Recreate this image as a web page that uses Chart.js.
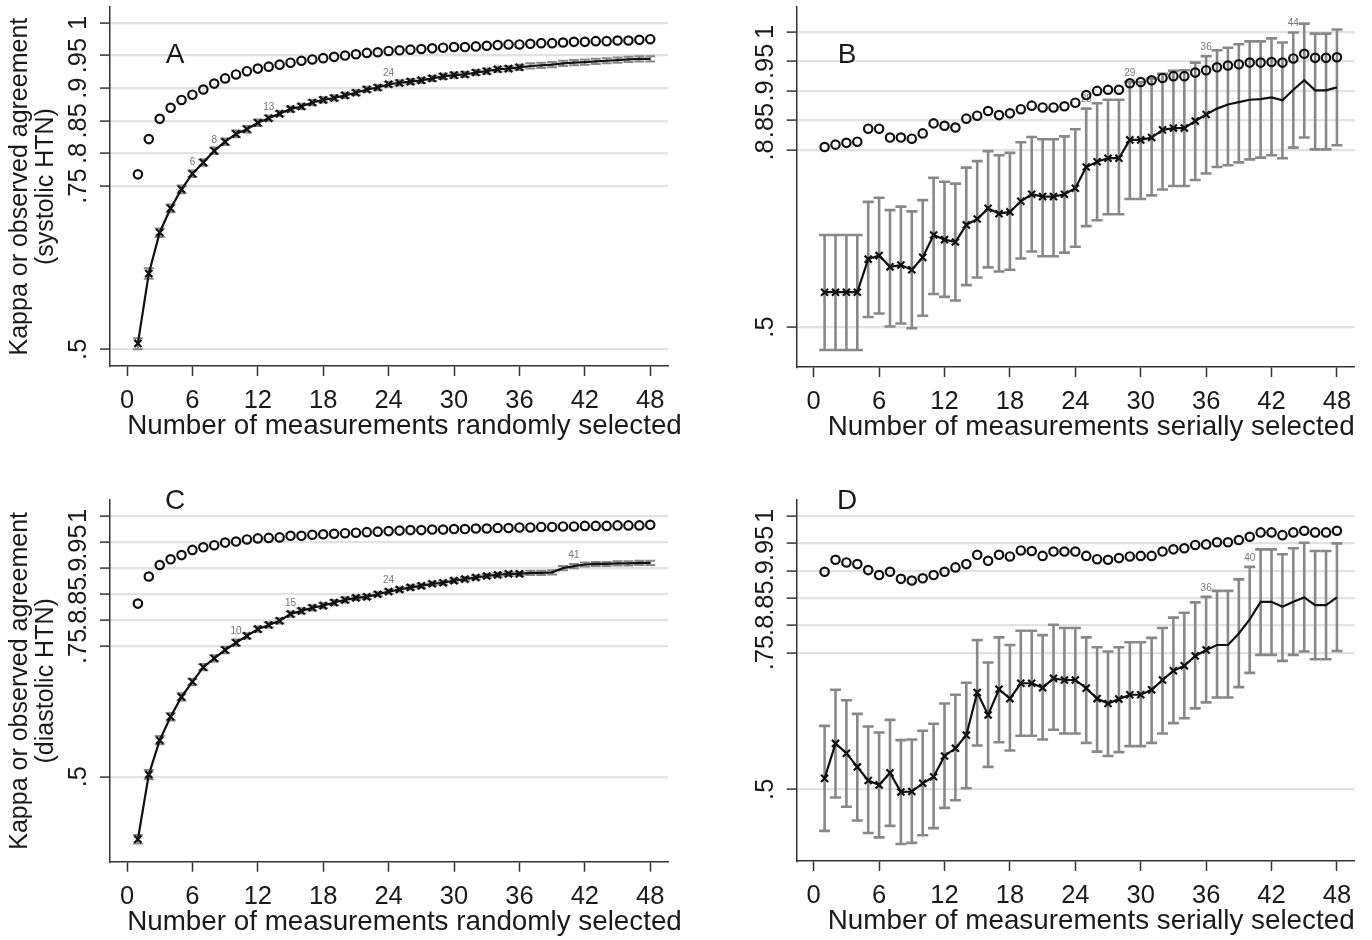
<!DOCTYPE html>
<html><head><meta charset="utf-8">
<script src="https://cdn.jsdelivr.net/npm/chart.js@4.4.1/dist/chart.umd.min.js"></script>
<style>
html,body{margin:0;padding:0;background:#fff;width:1372px;height:940px;overflow:hidden;}
canvas{position:absolute;display:block;}
</style></head><body>
<canvas id="cA" width="686" height="460" style="left:0;top:0"></canvas>
<canvas id="cB" width="686" height="460" style="left:686px;top:0"></canvas>
<canvas id="cC" width="686" height="480" style="left:0;top:460px"></canvas>
<canvas id="cD" width="686" height="480" style="left:686px;top:460px"></canvas>
<script>
// ---------- data ----------
const nMeasurements = [1,2,3,4,5,6,7,8,9,10,11,12,13,14,15,16,17,18,19,20,21,22,23,24,25,26,27,28,29,30,31,32,33,34,35,36,37,38,39,40,41,42,43,44,45,46,47,48];
const xTicks = [0,6,12,18,24,30,36,42,48];
const yTicksACD = [0.5,0.75,0.8,0.85,0.9,0.95,1];
const yLabelsACD = ['.5','.75','.8','.85','.9','.95','1'];
const yTicksB = [0.5,0.8,0.85,0.9,0.95,1];
const yLabelsB = ['.5','.8','.85','.9','.95','1'];

// Panel A: systolic, random selection
const aObserved = [0.768,0.822,0.853,0.870,0.882,0.890,0.898,0.907,0.915,0.921,0.926,0.930,0.933,0.936,0.939,0.942,0.944,0.946,0.948,0.950,0.952,0.954,0.955,0.957,0.958,0.959,0.960,0.961,0.962,0.963,0.963,0.964,0.965,0.966,0.967,0.967,0.968,0.969,0.969,0.970,0.971,0.971,0.972,0.972,0.973,0.973,0.974,0.975];
const aKappa = [0.509,0.616,0.679,0.716,0.745,0.769,0.786,0.804,0.818,0.830,0.837,0.847,0.854,0.861,0.868,0.872,0.878,0.882,0.885,0.889,0.893,0.898,0.901,0.906,0.908,0.910,0.912,0.915,0.918,0.920,0.921,0.924,0.926,0.929,0.930,0.932,0.934,0.935,0.936,0.938,0.939,0.940,0.941,0.942,0.943,0.944,0.945,0.945];
const aLow = [0.500,0.608,0.672,0.710,0.739,0.764,0.781,0.799,0.813,0.825,0.832,0.842,0.850,0.857,0.864,0.868,0.874,0.878,0.881,0.885,0.889,0.894,0.897,0.902,0.904,0.906,0.908,0.911,0.914,0.916,0.917,0.920,0.922,0.925,0.926,0.928,0.930,0.931,0.932,0.934,0.935,0.936,0.937,0.938,0.939,0.940,0.941,0.941];
const aHigh = [0.517,0.624,0.685,0.722,0.751,0.774,0.791,0.809,0.823,0.835,0.842,0.852,0.858,0.865,0.872,0.876,0.882,0.886,0.889,0.893,0.897,0.902,0.905,0.910,0.912,0.914,0.916,0.919,0.922,0.924,0.925,0.928,0.930,0.933,0.934,0.936,0.938,0.939,0.940,0.942,0.943,0.944,0.945,0.946,0.947,0.948,0.949,0.949];
const aMarks = [6,8,13,24];

// Panel B: systolic, serial selection
const bObserved = [0.805,0.809,0.812,0.814,0.836,0.836,0.821,0.821,0.819,0.828,0.845,0.841,0.838,0.853,0.858,0.866,0.859,0.862,0.869,0.875,0.872,0.872,0.874,0.880,0.893,0.900,0.902,0.902,0.913,0.915,0.918,0.922,0.925,0.925,0.931,0.935,0.940,0.943,0.945,0.948,0.948,0.949,0.948,0.955,0.963,0.956,0.956,0.957];
const bKappa = [0.559,0.559,0.559,0.559,0.615,0.621,0.602,0.605,0.597,0.618,0.656,0.648,0.644,0.673,0.683,0.701,0.692,0.695,0.713,0.725,0.721,0.721,0.725,0.735,0.771,0.780,0.786,0.786,0.817,0.817,0.821,0.834,0.837,0.837,0.849,0.860,0.870,0.877,0.881,0.885,0.886,0.889,0.884,0.902,0.918,0.901,0.901,0.906];
const bLow = [0.461,0.461,0.461,0.461,0.517,0.523,0.501,0.506,0.498,0.519,0.556,0.551,0.545,0.571,0.584,0.601,0.594,0.597,0.616,0.628,0.620,0.620,0.626,0.636,0.671,0.681,0.691,0.691,0.717,0.717,0.723,0.733,0.739,0.739,0.749,0.760,0.771,0.774,0.779,0.784,0.787,0.791,0.786,0.804,0.821,0.801,0.801,0.808];
const bHigh = [0.656,0.656,0.656,0.656,0.712,0.719,0.698,0.704,0.696,0.715,0.753,0.746,0.743,0.770,0.781,0.798,0.791,0.795,0.813,0.822,0.818,0.818,0.823,0.835,0.870,0.879,0.885,0.885,0.915,0.915,0.921,0.929,0.934,0.935,0.948,0.959,0.969,0.973,0.979,0.984,0.984,0.989,0.982,0.999,1.014,0.997,0.997,1.004];
const bMarks = [25,29,36,44];

// Panel C: diastolic, random selection
const cObserved = [0.832,0.884,0.906,0.917,0.925,0.935,0.940,0.944,0.949,0.951,0.955,0.957,0.958,0.959,0.962,0.962,0.964,0.965,0.966,0.967,0.968,0.969,0.970,0.971,0.972,0.973,0.973,0.974,0.974,0.975,0.975,0.976,0.976,0.977,0.977,0.978,0.978,0.979,0.979,0.980,0.980,0.981,0.981,0.981,0.982,0.982,0.982,0.983];
const cKappa = [0.380,0.504,0.570,0.615,0.653,0.682,0.710,0.727,0.743,0.757,0.770,0.783,0.791,0.799,0.812,0.818,0.824,0.828,0.834,0.839,0.843,0.845,0.850,0.855,0.859,0.863,0.866,0.870,0.872,0.876,0.879,0.882,0.885,0.887,0.889,0.889,0.891,0.891,0.892,0.900,0.904,0.907,0.908,0.908,0.909,0.909,0.910,0.910];
const cLow = [0.372,0.495,0.562,0.608,0.646,0.676,0.704,0.721,0.737,0.751,0.765,0.778,0.786,0.794,0.807,0.813,0.819,0.823,0.829,0.834,0.839,0.841,0.846,0.851,0.855,0.859,0.862,0.866,0.868,0.872,0.875,0.878,0.881,0.883,0.885,0.885,0.887,0.887,0.888,0.896,0.900,0.903,0.904,0.904,0.905,0.905,0.906,0.906];
const cHigh = [0.388,0.513,0.578,0.622,0.660,0.688,0.716,0.733,0.749,0.763,0.775,0.788,0.796,0.804,0.817,0.823,0.829,0.833,0.839,0.844,0.847,0.849,0.854,0.859,0.863,0.867,0.870,0.874,0.876,0.880,0.883,0.886,0.889,0.891,0.893,0.893,0.895,0.895,0.896,0.904,0.908,0.911,0.912,0.912,0.913,0.913,0.914,0.914];
const cMarks = [10,15,24,41];

// Panel D: diastolic, serial selection
const dObserved = [0.898,0.920,0.915,0.912,0.901,0.892,0.898,0.885,0.882,0.886,0.892,0.898,0.906,0.912,0.929,0.918,0.929,0.926,0.937,0.936,0.927,0.935,0.935,0.935,0.927,0.921,0.920,0.923,0.926,0.927,0.927,0.935,0.939,0.941,0.947,0.948,0.952,0.952,0.956,0.962,0.970,0.970,0.965,0.970,0.973,0.970,0.970,0.973];
const dKappa = [0.520,0.584,0.566,0.541,0.516,0.508,0.530,0.495,0.496,0.511,0.523,0.561,0.575,0.599,0.677,0.636,0.683,0.666,0.694,0.694,0.686,0.703,0.700,0.700,0.685,0.666,0.657,0.665,0.673,0.673,0.682,0.700,0.717,0.726,0.744,0.755,0.764,0.764,0.785,0.811,0.843,0.843,0.834,0.843,0.851,0.837,0.837,0.851];
const dLow = [0.424,0.485,0.468,0.443,0.420,0.412,0.433,0.400,0.402,0.416,0.429,0.466,0.480,0.502,0.580,0.541,0.586,0.571,0.598,0.598,0.591,0.609,0.602,0.602,0.585,0.569,0.561,0.568,0.579,0.579,0.585,0.602,0.621,0.630,0.648,0.659,0.668,0.668,0.687,0.713,0.746,0.746,0.735,0.746,0.752,0.738,0.738,0.753];
const dHigh = [0.616,0.682,0.663,0.638,0.615,0.604,0.627,0.590,0.591,0.607,0.620,0.657,0.673,0.695,0.773,0.732,0.778,0.764,0.790,0.790,0.782,0.801,0.795,0.795,0.778,0.760,0.752,0.760,0.769,0.769,0.777,0.795,0.814,0.823,0.842,0.852,0.863,0.863,0.884,0.907,0.939,0.939,0.930,0.941,0.951,0.936,0.936,0.950];
const dMarks = [36,40];

// ---------- rendering ----------
const FONT = '"Liberation Sans", Arial, Helvetica, sans-serif';
Chart.defaults.font.family = FONT;
Chart.defaults.color = '#1a1a1a';

function extrasPlugin(p) {
  return {
    id: 'extras' + p.letter,
    beforeDatasetsDraw(chart) {
      const {ctx, scales: {x, y}} = chart;
      ctx.save();
      ctx.strokeStyle = '#888888';
      ctx.lineWidth = p.barWidth;
      ctx.lineCap = 'butt';
      for (let i = 0; i < nMeasurements.length; i++) {
        const px = x.getPixelForValue(nMeasurements[i]);
        const p1 = y.getPixelForValue(p.low[i]);
        const p2 = y.getPixelForValue(p.high[i]);
        ctx.beginPath();
        ctx.moveTo(px, p1); ctx.lineTo(px, p2);
        ctx.moveTo(px - p.cap, p1); ctx.lineTo(px + p.cap, p1);
        ctx.moveTo(px - p.cap, p2); ctx.lineTo(px + p.cap, p2);
        ctx.stroke();
      }
      ctx.fillStyle = '#777777';
      ctx.font = '10px ' + FONT;
      ctx.textAlign = 'center';
      ctx.textBaseline = 'middle';
      p.marks.forEach(n => {
        const i = nMeasurements.indexOf(n);
        ctx.fillText(String(n), x.getPixelForValue(n), y.getPixelForValue(p.anchor[i]) - p.markOffset);
      });
      ctx.restore();
    },
    afterDraw(chart) {
      const {ctx, chartArea} = chart;
      ctx.save();
      ctx.fillStyle = '#1a1a1a';
      ctx.textAlign = 'center';
      ctx.textBaseline = 'middle';
      // panel letter
      ctx.font = '28px ' + FONT;
      ctx.fillText(p.letter, p.letterX, p.letterY);
      // x-axis title (Stata centres it slightly right of the plot region)
      ctx.font = '27.8px ' + FONT;
      ctx.fillText(p.xTitle, (chartArea.left + chartArea.right) / 2 + 15.5, chartArea.bottom + 60.5);
      ctx.restore();
    }
  };
}

function makeChart(p) {
  const axisDark = '#333333';
  const pts = arr => arr.map((v, i) => ({x: nMeasurements[i], y: v}));
  return new Chart(document.getElementById(p.canvas), {
    type: 'line',
    data: {
      datasets: [
        {
          label: 'Observed agreement',
          data: pts(p.observed),
          showLine: false,
          pointStyle: 'circle',
          pointRadius: 4.2,
          pointBorderWidth: 2.2,
          pointBorderColor: '#111',
          pointBackgroundColor: 'rgba(255,255,255,0)',
          borderColor: '#111'
        },
        {
          label: 'Kappa',
          data: pts(p.kappa),
          borderColor: '#111',
          borderWidth: 2.2,
          tension: 0,
          pointStyle: 'crossRot',
          pointRadius: ctx => (ctx.dataIndex < 36 ? 5 : 0),
          pointBorderWidth: 2.2,
          pointBorderColor: '#111',
          pointBackgroundColor: '#111'
        }
      ]
    },
    options: {
      responsive: false,
      animation: false,
      devicePixelRatio: 1,
      layout: {padding: p.padding},
      plugins: {legend: {display: false}, tooltip: {enabled: false}},
      scales: {
        x: {
          type: 'linear',
          position: 'bottom',
          min: -1.56, max: 49.63,
          afterBuildTicks: s => { s.ticks = xTicks.map(v => ({value: v})); },
          afterFit: s => { s.height = 78; s.paddingLeft = 0; s.paddingRight = 0; s.paddingTop = 0; s.paddingBottom = 0; },
          ticks: {autoSkip: false, minRotation: 0, maxRotation: 0, padding: 10, color: '#1a1a1a',
                  font: {size: 25.5}, callback: v => String(v)},
          grid: {drawOnChartArea: false, drawTicks: true, tickLength: 10, tickColor: axisDark, tickWidth: 1.5},
          border: {display: true, color: axisDark, width: 1.5},
          title: {display: false}
        },
        y: {
          type: 'linear',
          position: 'left',
          min: p.yMin, max: p.yMax,
          afterBuildTicks: s => { s.ticks = p.yTicks.map(v => ({value: v})); },
          afterFit: s => { s.width = 110; s.paddingTop = 0; s.paddingBottom = 0; s.paddingLeft = 0; s.paddingRight = 0; },
          ticks: {autoSkip: false, minRotation: 90, maxRotation: 90, crossAlign: 'center', padding: 3,
                  color: '#1a1a1a', font: {size: 25.5},
                  callback: v => p.yLabels[p.yTicks.indexOf(v)]},
          grid: {color: '#e2e2e2', lineWidth: 2.2, drawTicks: true, tickLength: 10, tickColor: axisDark, tickWidth: 1.5},
          border: {display: true, color: axisDark, width: 1.5},
          title: p.yTitle ? {display: true, text: p.yTitle, color: '#1a1a1a', font: {size: 25, lineHeight: 1.04},
                             padding: {top: 7, bottom: 0}} : {display: false}
        }
      }
    },
    plugins: [extrasPlugin(p)]
  });
}

makeChart({
  canvas: 'cA', letter: 'A', letterX: 175, letterY: 55,
  observed: aObserved, kappa: aKappa, low: aLow, high: aHigh,
  marks: aMarks, anchor: aKappa, markOffset: 11, cap: 5, barWidth: 2,
  yMin: 0.47443, yMax: 1.02404, yTicks: yTicksACD, yLabels: yLabelsACD,
  yTitle: ['Kappa or observed agreement', '(systolic HTN)'],
  xTitle: 'Number of measurements randomly selected',
  padding: {left: 0, top: 7, right: 18, bottom: 16}
});
makeChart({
  canvas: 'cB', letter: 'B', letterX: 161, letterY: 55,
  observed: bObserved, kappa: bKappa, low: bLow, high: bHigh,
  marks: bMarks, anchor: bHigh, markOffset: 9, cap: 5.5, barWidth: 2.6,
  yMin: 0.43227, yMax: 1.04182, yTicks: yTicksB, yLabels: yLabelsB,
  yTitle: null,
  xTitle: 'Number of measurements serially selected',
  padding: {left: 0.7, top: 7, right: 17.3, bottom: 15}
});
makeChart({
  canvas: 'cC', letter: 'C', letterX: 175, letterY: 41,
  observed: cObserved, kappa: cKappa, low: cLow, high: cHigh,
  marks: cMarks, anchor: cKappa, markOffset: 11, cap: 5, barWidth: 2,
  yMin: 0.33698, yMax: 1.03069, yTicks: yTicksACD, yLabels: yLabelsACD,
  yTitle: ['Kappa or observed agreement', '(diastolic HTN)'],
  xTitle: 'Number of measurements randomly selected',
  padding: {left: 0, top: 40, right: 18, bottom: 0.3}
});
makeChart({
  canvas: 'cD', letter: 'D', letterX: 161, letterY: 41,
  observed: dObserved, kappa: dKappa, low: dLow, high: dHigh,
  marks: dMarks, anchor: dHigh, markOffset: 9, cap: 5.5, barWidth: 2.6,
  yMin: 0.36883, yMax: 1.02927, yTicks: yTicksACD, yLabels: yLabelsACD,
  yTitle: null,
  xTitle: 'Number of measurements serially selected',
  padding: {left: 0.7, top: 40, right: 17.3, bottom: 1}
});
</script>
</body></html>
